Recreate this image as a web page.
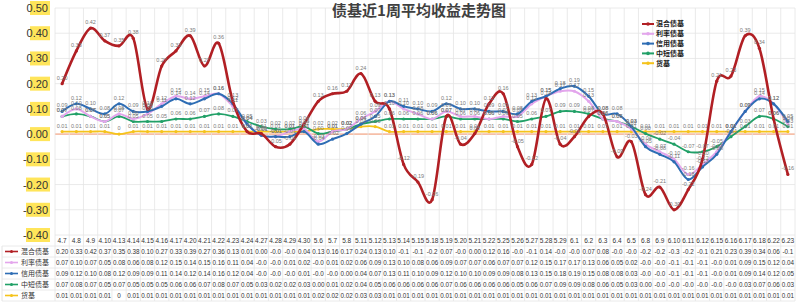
<!DOCTYPE html>
<html>
<head>
<meta charset="utf-8">
<script src="https://cdn.jsdelivr.net/npm/d3@7"></script>
<style>
  body { margin: 0; background: #fff; }
  text { font-family: 'Liberation Sans', 'Noto Sans CJK SC', sans-serif; }
  .cn { font-family: 'Noto Sans CJK SC', sans-serif; }
</style>
</head>
<body>
<div id="chart"></div>
<script>
const categories = ['4.7', '4.8', '4.9', '4.10', '4.13', '4.14', '4.15', '4.16', '4.17', '4.20', '4.21', '4.22', '4.23', '4.24', '4.27', '4.28', '4.29', '4.30',
  '5.6', '5.7', '5.8', '5.11', '5.12', '5.13', '5.14', '5.15', '5.18', '5.19', '5.20', '5.21', '5.22', '5.25', '5.26', '5.27', '5.28', '5.29',
  '6.1', '6.2', '6.3', '6.4', '6.5', '6.8', '6.9', '6.10', '6.11', '6.12', '6.15', '6.16', '6.17', '6.18', '6.22', '6.23']

const mixed = [0.20, 0.33, 0.42, 0.37, 0.35, 0.38, 0.10, 0.27, 0.33, 0.39, 0.27, 0.36, 0.13, 0.01, 0.002, -0.05, -0.04, 0.04,
  0.13, 0.16, 0.17, 0.24, 0.13, 0.10, -0.12, -0.19, -0.26, 0.07, -0.04, 0.002, 0.12, 0.16, -0.05, -0.12, 0.14, -0.04,
  -0.01, 0.07, 0.08, -0.09, -0.03, -0.24, -0.21, -0.30, -0.22, -0.10, 0.21, 0.23, 0.39, 0.34, 0.06, -0.16]
const rate = [0.07, 0.10, 0.07, 0.05, 0.08, 0.06, 0.08, 0.12, 0.15, 0.14, 0.15, 0.16, 0.11, 0.04, -0.005, -0.01, 0.01, 0.02,
  -0.03, 0.01, 0.02, 0.06, 0.09, 0.13, 0.10, 0.08, 0.06, 0.09, 0.07, 0.07, 0.06, 0.07, 0.07, 0.12, 0.15, 0.17,
  0.17, 0.13, 0.06, 0.05, 0.02, -0.04, -0.07, -0.10, -0.16, -0.12, -0.07, 0.01, 0.09, 0.15, 0.12, 0.04]
const credit = [0.09, 0.12, 0.10, 0.08, 0.12, 0.09, 0.09, 0.11, 0.14, 0.12, 0.14, 0.16, 0.12, 0.04, -0.005, -0.01, -0.01, 0.01,
  -0.04, -0.02, 0.002, 0.04, 0.07, 0.13, 0.11, 0.10, 0.09, 0.12, 0.10, 0.10, 0.09, 0.09, 0.08, 0.13, 0.15, 0.18,
  0.19, 0.15, 0.08, 0.08, 0.03, -0.05, -0.08, -0.11, -0.18, -0.13, -0.08, 0.01, 0.09, 0.14, 0.12, 0.05]
const short = [0.07, 0.08, 0.07, 0.05, 0.07, 0.05, 0.05, 0.05, 0.06, 0.06, 0.07, 0.08, 0.07, 0.05, 0.03, 0.02, 0.02, 0.03,
  0.002, 0.01, 0.02, 0.04, 0.05, 0.06, 0.06, 0.06, 0.06, 0.07, 0.06, 0.06, 0.06, 0.06, 0.05, 0.06, 0.07, 0.09,
  0.09, 0.08, 0.06, 0.05, 0.03, 0.002, -0.02, -0.04, -0.07, -0.07, -0.05, -0.01, 0.03, 0.07, 0.06, 0.03]
const money = [0.01, 0.01, 0.01, 0.01, 0, 0.01, 0.01, 0.01, 0.01, 0.01, 0.01, 0.01, 0.01, 0.01, 0.01, 0.01, 0.01, 0.01,
  0.02, 0.02, 0.02, 0.03, 0.03, 0.01, 0.01, 0.01, 0.01, 0.01, 0.01, 0.01, 0.01, 0.01, 0.01, 0.01, 0.01, 0.01,
  0.01, 0.01, 0.01, 0.01, 0.01, 0.01, 0.01, 0.01, 0.01, 0.01, 0.01, 0.01, 0.01, 0.01, 0.01, 0.01]

const seriesNames = ['混合债基', '利率债基', '信用债基', '中短债基', '货基']
const yTicks = [0.5, 0.4, 0.3, 0.2, 0.1, 0, -0.1, -0.2, -0.3, -0.4]

const series = [
  { name: seriesNames[0], values: mixed, color: '#B11F24', width: 2.6 },
  { name: seriesNames[1], values: rate, color: '#E3A6EC', width: 2 },
  { name: seriesNames[2], values: credit, color: '#2E6DB4', width: 2 },
  { name: seriesNames[3], values: short, color: '#21A067', width: 1.8 },
  { name: seriesNames[4], values: money, color: '#F5C31B', width: 1.8 }
]

const width = 799
const height = 307
const plot = { left: 55, right: 795, top: 8, bottom: 235 }
const tableTop = 236
const rowH = 11

const svg = d3
  .select('#chart')
  .append('svg')
  .attr('width', width)
  .attr('height', height)

const xPositionScale = d3
  .scaleBand()
  .domain(categories)
  .range([plot.left, plot.right])

const yPositionScale = d3
  .scaleLinear()
  .domain([-0.4, 0.5])
  .range([plot.bottom, plot.top])

const cx = c => xPositionScale(c) + xPositionScale.bandwidth() / 2

// horizontal gridlines
svg
  .append('g')
  .selectAll('line')
  .data(yTicks)
  .enter()
  .append('line')
  .attr('x1', plot.left)
  .attr('x2', plot.right)
  .attr('y1', d => yPositionScale(d))
  .attr('y2', d => yPositionScale(d))
  .attr('stroke', d => (d === 0 ? '#F6BFA8' : '#E4E4E4'))
  .attr('stroke-width', d => (d === 0 ? 1.6 : 0.8))

// vertical gridlines run down through the data table
const bounds = categories.map(c => xPositionScale(c)).concat([plot.right])
svg
  .append('g')
  .selectAll('line')
  .data(bounds)
  .enter()
  .append('line')
  .attr('x1', d => d)
  .attr('x2', d => d)
  .attr('y1', plot.top)
  .attr('y2', tableTop + rowH * 6 - 1)
  .attr('stroke', '#E4E4E4')
  .attr('stroke-width', 0.8)

// table borders
const rowLines = d3.range(1, 7).map(i => tableTop + rowH * i - 1)
svg
  .append('g')
  .selectAll('line')
  .data(rowLines)
  .enter()
  .append('line')
  .attr('x1', 2)
  .attr('x2', plot.right)
  .attr('y1', d => d)
  .attr('y2', d => d)
  .attr('stroke', '#E4E4E4')
  .attr('stroke-width', 0.8)
svg
  .append('line')
  .attr('x1', 2)
  .attr('x2', 2)
  .attr('y1', tableTop + rowH - 1)
  .attr('y2', tableTop + rowH * 6 - 1)
  .attr('stroke', '#E4E4E4')

// y labels with yellow highlight
const yLab = svg
  .append('g')
  .selectAll('g')
  .data(yTicks)
  .enter()
  .append('g')
  .attr('transform', d => 'translate(48,' + yPositionScale(d) + ')')
yLab
  .append('rect')
  .attr('x', d => (d < 0 ? -22 : -18))
  .attr('y', -7)
  .attr('width', d => (d < 0 ? 24 : 20))
  .attr('height', 14)
  .attr('fill', '#FFE55A')
yLab
  .append('text')
  .attr('text-anchor', 'end')
  .attr('dy', '0.36em')
  .attr('font-size', 11)
  .attr('fill', '#333')
  .text(d => d.toFixed(2))

// lines
const line = d3
  .line()
  .x((d, i) => cx(categories[i]))
  .y(d => yPositionScale(d))
  .curve(d3.curveCardinal)

const drawOrder = [4, 3, 1, 2, 0]
drawOrder.forEach(k => {
  const s = series[k]
  svg
    .append('path')
    .datum(s.values)
    .attr('d', line)
    .attr('fill', 'none')
    .attr('stroke', s.color)
    .attr('stroke-width', s.width)
  svg
    .append('g')
    .selectAll('circle')
    .data(s.values)
    .enter()
    .append('circle')
    .attr('cx', (d, i) => cx(categories[i]))
    .attr('cy', d => yPositionScale(d))
    .attr('r', 1.6)
    .attr('fill', s.color)
})

// data labels
const fmtLabel = d => (d === 0 ? '0' : d.toFixed(2))
series.forEach(s => {
  svg
    .append('g')
    .selectAll('text')
    .data(s.values)
    .enter()
    .append('text')
    .attr('x', (d, i) => cx(categories[i]))
    .attr('y', d => yPositionScale(d) - 4)
    .attr('text-anchor', 'middle')
    .attr('font-size', 5.5)
    .attr('fill', '#7A7A7A')
    .text(fmtLabel)
})

// title
svg
  .append('text')
  .attr('class', 'cn')
  .attr('x', 419)
  .attr('y', 16)
  .attr('text-anchor', 'middle')
  .attr('font-size', 15)
  .attr('font-weight', 'bold')
  .attr('fill', '#404040')
  .text('债基近1周平均收益走势图')

// legend
const legend = svg
  .append('g')
  .selectAll('g')
  .data(series)
  .enter()
  .append('g')
  .attr('transform', (d, i) => 'translate(642,' + (24 + i * 9.8) + ')')
legend
  .append('line')
  .attr('x1', 0)
  .attr('x2', 12)
  .attr('stroke', d => d.color)
  .attr('stroke-width', 2)
legend
  .append('circle')
  .attr('cx', 6)
  .attr('r', 1.8)
  .attr('fill', d => d.color)
legend
  .append('text')
  .attr('class', 'cn')
  .attr('x', 14)
  .attr('dy', '0.35em')
  .attr('font-size', 7)
  .attr('font-weight', 'bold')
  .attr('fill', '#222')
  .text(d => d.name)

// data table: categories row
svg
  .append('g')
  .selectAll('text')
  .data(categories)
  .enter()
  .append('text')
  .attr('x', d => cx(d))
  .attr('y', tableTop + rowH / 2 - 1)
  .attr('dy', '0.35em')
  .attr('text-anchor', 'middle')
  .attr('font-size', 6.5)
  .attr('fill', '#333')
  .text(d => d)

// data table: series rows (excel clips values to the column width)
const fmtCell = d => (d === 0 ? '0' : d.toFixed(2).slice(0, 4))
series.forEach((s, r) => {
  const rowY = tableTop + rowH * (r + 1) + rowH / 2 - 1
  svg
    .append('line')
    .attr('x1', 5)
    .attr('x2', 18)
    .attr('y1', rowY)
    .attr('y2', rowY)
    .attr('stroke', s.color)
    .attr('stroke-width', 1.6)
  svg
    .append('circle')
    .attr('cx', 11.5)
    .attr('cy', rowY)
    .attr('r', 1.5)
    .attr('fill', s.color)
  svg
    .append('text')
    .attr('class', 'cn')
    .attr('x', 21)
    .attr('y', rowY)
    .attr('dy', '0.35em')
    .attr('font-size', 7)
    .attr('fill', '#333')
    .text(s.name)
  svg
    .append('g')
    .selectAll('text')
    .data(s.values)
    .enter()
    .append('text')
    .attr('x', (d, i) => cx(categories[i]))
    .attr('y', rowY)
    .attr('dy', '0.35em')
    .attr('text-anchor', 'middle')
    .attr('font-size', 6.3)
    .attr('fill', '#333')
    .text(fmtCell)
})
</script>
</body>
</html>
